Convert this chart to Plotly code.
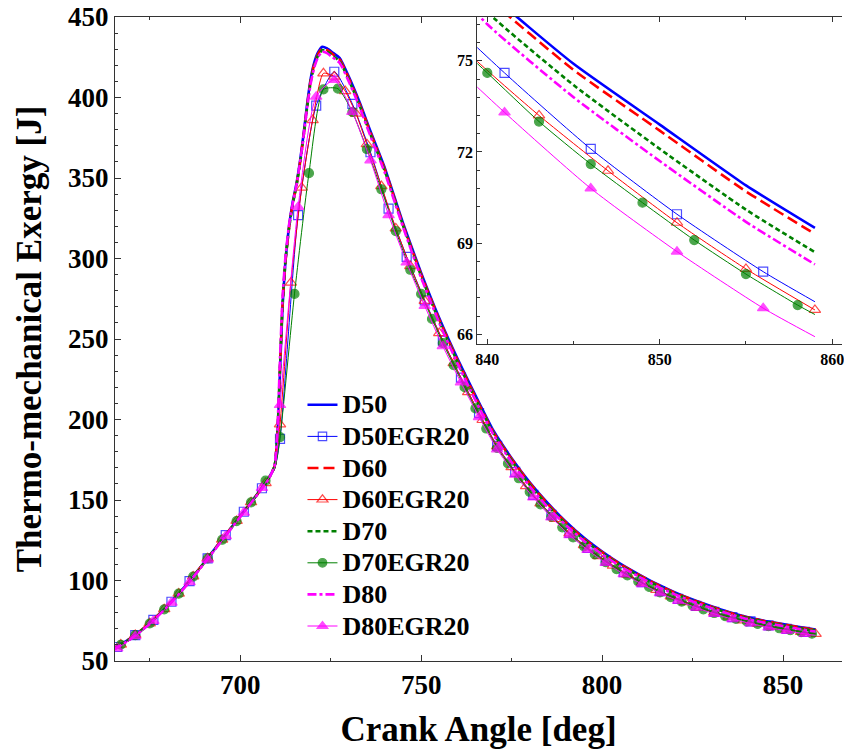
import plotly.graph_objects as go

# ---------------- data ----------------
ca = [665, 670, 675, 680, 685, 690, 695, 700, 705, 708, 709.5, 710.3, 711, 711.7, 712.5,
      713.5, 714.5, 715.5, 716.5, 717.5, 718.5, 719.5, 720.5, 721.5, 722.7, 724, 725.5,
      727.5, 730, 733, 736, 740, 745, 750, 755, 760, 765, 770, 775, 780, 785, 790, 795,
      800, 805, 810, 815, 820, 825, 830, 835, 840, 845, 850, 855, 859]

d50 = [57.5, 64.5, 73.5, 84.5, 97, 111, 125.5, 140, 154.5, 164, 171, 190, 230, 270, 298,
       320, 335, 346, 360, 377, 396, 412, 422, 428, 431.5, 430.5, 428,
       424.5, 413, 397, 379, 356, 322, 291, 263, 238, 215, 193, 176, 161, 148, 136.5, 126.5,
       118, 110.5, 104, 98, 92.8, 88.2, 84.1, 80.4, 77.3, 74.9, 72.9, 70.9, 69.5]
d60 = [57.5, 64.5, 73.5, 84.5, 97, 111, 125.5, 140, 154.5, 164, 171, 191, 232, 271, 298,
       319, 334, 345, 359, 376, 395, 411, 421, 427, 430.5, 429.5, 427,
       423.5, 412, 396, 378, 355, 321, 290, 262, 237, 214, 192, 175.5, 160.5, 147.5, 136, 126,
       117.6, 110.1, 103.7, 97.7, 92.5, 88, 83.9, 80.2, 77.1, 74.7, 72.7, 70.7, 69.3]
d70 = [57.3, 64.3, 73.3, 84.3, 96.8, 110.8, 125.3, 139.8, 154.3, 163.8, 171, 192, 233, 272, 299,
       319, 333.5, 344.5, 358.5, 375.5, 394, 410, 420, 426, 429.5, 428.5, 426,
       422.5, 411, 395, 377, 354, 320.5, 289, 261, 236, 213, 191.5, 174.5, 159.5, 146.5, 135.2, 125.3,
       117, 109.5, 103.1, 97.1, 92, 87.5, 83.4, 79.7, 76.6, 74.2, 72.1, 70.1, 68.7]
d80 = [57, 64, 73, 84, 96.5, 110.5, 125, 139.5, 154, 163.5, 171.5, 195, 238, 276, 301,
       321, 334, 345, 359, 376, 394, 409, 419, 425, 428.5, 427.5, 425,
       421.5, 410, 394, 376, 353, 319.5, 288, 260, 235, 212, 190.5, 173.5, 158.5, 145.5, 134.4, 124.6,
       116.3, 108.9, 102.6, 96.6, 91.5, 87, 83, 79.3, 76.2, 73.8, 71.7, 69.7, 68.3]

ca_d50egr = [665, 666, 671, 676, 681, 686, 691, 696, 701, 706, 709.5, 711, 716, 721, 726, 731,
             736, 741, 746, 751, 756, 761, 766, 771, 776, 781, 786, 791, 796, 801, 806, 811,
             816, 821, 826, 831, 836, 841, 846, 851, 856, 859]
d50egr = [57.3, 58.7, 66.1, 75.5, 86.8, 99.6, 113.7, 128.2, 142.7, 157.3, 169.5, 188, 327, 395,
          416, 396, 366, 331, 301, 274, 249, 226, 204, 183.6, 167.5, 153.2, 140.7, 129.6, 120.3,
          112.3, 105.2, 99, 93.4, 88.6, 84.3, 80.5, 77.3, 74.6, 72.1, 69.95, 68.06, 67.07]
d50egr_unmarked = [665, 709.5, 859]

ca_d80egr = ca_d50egr
d80egr = [56.5, 57.8, 65.4, 74.9, 86.2, 99, 113, 127.6, 142.2, 157.5, 170, 209, 332, 400.5,
          411, 391, 361, 327, 297.5, 270.5, 245.5, 223, 201.5, 181.5, 165.7, 151.6, 139.2, 128.2,
          119, 111, 104, 97.8, 92.2, 87.4, 83.1, 79.3, 76, 73.3, 70.8, 68.72, 66.86, 65.92]
d80egr_unmarked = [665, 709.5, 859]

ca_d60egr = [665, 667, 671, 675, 679, 683, 687, 691, 695, 699, 703, 707, 709.5, 711, 714, 717,
             720, 723, 726, 729, 732, 735, 739, 743, 747, 751, 755, 759, 763, 767, 771, 775,
             779, 783, 787, 791, 795, 799, 803, 807, 811, 815, 819, 823, 827, 831, 835, 839,
             843, 847, 851, 855, 859]
d60egr = [57.4, 60.2, 66.2, 73.4, 82.2, 91.9, 102.5, 113.8, 125.4, 137, 148.6, 160.5, 169.5, 197,
          285, 344, 386, 415, 413, 404, 390, 371, 345, 318.7, 295.3, 273.7, 253.7, 235, 217,
          199.7, 183.3, 170.4, 158.6, 147.9, 138.2, 129.3, 121.9, 115.2, 109.2, 103.7, 98.7,
          94.2, 90.2, 86.6, 83.2, 80.2, 77.6, 75.2, 73.2, 71.38, 69.67, 68.15, 66.8]
d60egr_unmarked = [665, 709.5]

ca_d70egr = [665, 667, 671, 675, 679, 683, 687, 691, 695, 699, 703, 707, 709.5, 711, 715, 719,
             723, 727, 731, 735, 739, 743, 747, 750, 753, 756, 759, 762, 765, 768, 771, 774,
             777, 780, 783, 786, 789, 792, 795, 798, 801, 804, 807, 810, 813, 816, 819, 822,
             825, 828, 831, 834, 837, 840, 843, 846, 849, 852, 855, 858, 859]
d70egr = [57.3, 60.1, 66.1, 73.3, 82.1, 91.8, 102.4, 113.7, 125.3, 136.9, 148.5, 162, 169.5, 189,
          278, 353, 405, 405.5, 391, 368, 343, 317, 293, 278, 262.5, 247.5, 233.7, 220.1, 206.9,
          194.4, 182.3, 172.7, 163.5, 155.1, 147.2, 139.7, 133, 126.7, 121.2, 116.2, 111.4,
          107.1, 103.1, 99.4, 96, 92.6, 89.7, 86.9, 84.4, 82.1, 79.8, 77.9, 76.2, 74.6, 73.0,
          71.6, 70.33, 69.1, 67.98, 66.96, 66.65]
d70egr_unmarked = [665, 709.5, 859]

names = ["D50", "D50EGR20", "D60", "D60EGR20", "D70", "D70EGR20", "D80", "D80EGR20"]

# ---------------- styles ----------------
FONT = "Liberation Serif, Times New Roman, serif"
BLUE, RED, GREEN, MAG = "#0000ff", "#ff0000", "#008000", "#ff00ff"

thick = [
    ("D50", d50, BLUE, "solid"),
    ("D60", d60, RED, "11px,5px"),
    ("D70", d70, GREEN, "5px,3px"),
    ("D80", d80, MAG, "9px,3px,3px,3px"),
]
egr = [
    ("D50EGR20", ca_d50egr, d50egr, d50egr_unmarked, BLUE, "square-open", 9),
    ("D60EGR20", ca_d60egr, d60egr, d60egr_unmarked, RED, "triangle-up-open", 10),
    ("D70EGR20", ca_d70egr, d70egr, d70egr_unmarked, GREEN, "circle", 9),
    ("D80EGR20", ca_d80egr, d80egr, d80egr_unmarked, MAG, "triangle-up", 10),
]

fig = go.Figure()


def add_series(xa, ya, legend):
    for i in range(4):
        nm, vals, col, dash = thick[i]
        fig.add_trace(go.Scatter(
            x=ca, y=vals, mode="lines", xaxis=xa, yaxis=ya,
            name=f"<span style='font-size:26px'>{nm}</span>",
            showlegend=legend,
            line=dict(color=col, width=2.6, dash=dash, shape="spline", smoothing=0.5)))
        nm2, cx, vals2, plain, col2, sym, ms = egr[i]
        sizes = [0 if c in plain else ms for c in cx]
        fig.add_trace(go.Scatter(
            x=cx, y=vals2, mode="lines+markers", xaxis=xa, yaxis=ya,
            name=f"<span style='font-size:26px'>{nm2}</span>",
            showlegend=legend,
            line=dict(color=col2, width=1, shape="spline", smoothing=0.6),
            marker=dict(symbol=sym, size=sizes, color=col2,
                        line=dict(color=col2, width=1.2))))


add_series("x", "y", True)
add_series("x2", "y2", False)

LC = "#333333"
x_common = dict(showline=True, linecolor=LC, linewidth=1, mirror="allticks",
                ticks="inside", tickcolor=LC, showgrid=False, zeroline=False)
y_common = dict(showline=True, linecolor=LC, linewidth=1, mirror=False,
                ticks="inside", tickcolor=LC, showgrid=False, zeroline=False)

fig.update_layout(
    width=844, height=750,
    margin=dict(l=115, r=0, t=17, b=89),
    paper_bgcolor="white", plot_bgcolor="white",
    font=dict(family=FONT, color="black"),
    xaxis=dict(
        domain=[0, 1], range=[665.4, 866.3], dtick=50, tick0=0, ticklen=6,
        tickfont=dict(family=FONT, size=27, weight="bold", color="black"),
        minor=dict(dtick=25, tick0=0, ticks="inside", ticklen=3, tickcolor=LC),
        title=dict(text="Crank Angle [deg]", standoff=17,
                   font=dict(family=FONT, size=35, weight="bold", color="black")),
        **x_common),
    yaxis=dict(
        domain=[0, 1], range=[50, 450], dtick=50, tick0=0, ticklen=6,
        tickfont=dict(family=FONT, size=27, weight="bold", color="black"),
        minor=dict(dtick=10, tick0=0, ticks="inside", ticklen=3, tickcolor=LC),
        title=dict(text="Thermo-mechanical Exergy [J]", standoff=15,
                   font=dict(family=FONT, size=35, weight="bold", color="black")),
        **y_common),
    xaxis2=dict(
        domain=[(478.3 - 115) / 729, 1], anchor="y2", range=[839.42, 860.57],
        dtick=10, tick0=0, ticklen=5, ticklabeloverflow="allow",
        tickfont=dict(family=FONT, size=16, weight="bold", color="black"),
        minor=dict(dtick=5, tick0=0, ticks="inside", ticklen=3, tickcolor=LC),
        **x_common),
    yaxis2=dict(
        domain=[(661 - 344.3) / 644, 1], anchor="x2", range=[65.67, 76.44],
        dtick=3, tick0=0, ticklen=5,
        tickfont=dict(family=FONT, size=16, weight="bold", color="black"),
        minor=dict(dtick=0.6, tick0=0, ticks="inside", ticklen=3, tickcolor=LC),
        **y_common),
    legend=dict(
        x=(303 - 115) / 729, xanchor="left", y=(661 - 384) / 644, yanchor="top",
        bgcolor="rgba(0,0,0,0)", borderwidth=0,
        font=dict(family=FONT, size=22, weight="bold", color="black"),
        traceorder="normal", itemsizing="trace",
    ),
    shapes=[dict(type="rect", xref="x2 domain", yref="y2 domain", x0=0, x1=1, y0=0, y1=1,
                 fillcolor="white", line=dict(width=0), layer="below")],
    showlegend=True,
)

fig.write_html("out.html")
